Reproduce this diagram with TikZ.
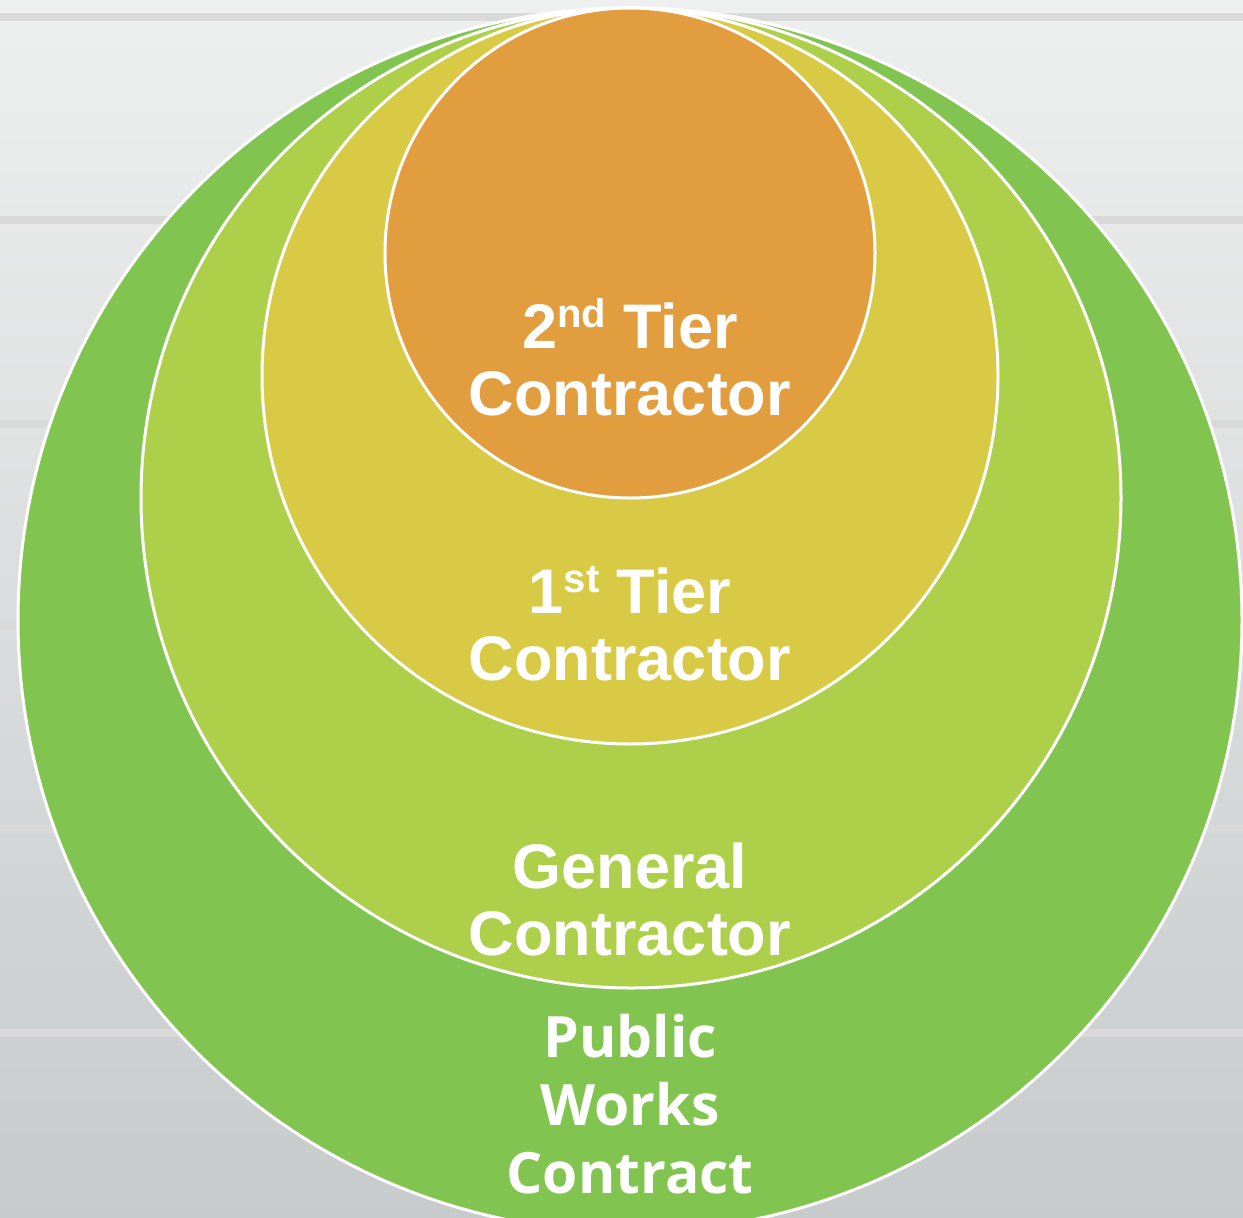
\documentclass[tikz,border=0pt]{standalone}
\usepackage{fontspec}
\setmainfont{Liberation Sans}
\newfontfamily\worksfont{Open Sans}
\definecolor{bgtop}{HTML}{EEEFEF}
\definecolor{bgbottom}{HTML}{C7CBCC}
\definecolor{stripegray}{HTML}{D9D9D9}
\definecolor{worksgreen}{HTML}{82C450}
\definecolor{generalgreen}{HTML}{AECF4A}
\definecolor{firstyellow}{HTML}{D8CA44}
\definecolor{secondorange}{HTML}{E19D3E}
\tikzset{
  ring/.style={draw=white, line width=3pt},
  tierlabel/.style={text=white, align=center, inner sep=0pt,
    font=\bfseries\fontsize{63}{67}\selectfont},
  workslabel/.style={text=white, align=center, inner sep=0pt,
    font=\worksfont\bfseries\fontsize{57}{68}\selectfont}
}
\newcommand{\tiersup}[1]{\raisebox{21pt}{\fontsize{40}{40}\selectfont #1}}
\begin{document}
\begin{tikzpicture}[x=1pt,y=-1pt]
        %background
        \useasboundingbox (0,0) rectangle (1243,1218);
        \shade[top color=bgtop, bottom color=bgbottom] (0,0) rectangle (1243,1218);
        \foreach \y in {17,220,424,626,829,1033}
            \fill[stripegray] (0,\y-4) rectangle (1243,\y+4);

        % nested circles, all touching at the top
        \filldraw[ring, fill=worksgreen] (630,620) circle[radius=612pt];
        \filldraw[ring, fill=generalgreen] (631,498) circle[radius=490pt];
        \filldraw[ring, fill=firstyellow] (630,376) circle[radius=368pt];
        \filldraw[ring, fill=secondorange] (630,253) circle[radius=245pt];

        % labels
        \node[tierlabel] (second) at (630,357) {2\tiersup{nd} Tier\\Contractor};
        \node[tierlabel] (first) at (630,624) {1\tiersup{st} Tier\\Contractor};
        \node[tierlabel] (general) at (630,899) {General\\Contractor};
        \node[workslabel] (works) at (630,1104) {Public\\Works\\Contract};
    \end{tikzpicture}
\end{document}
